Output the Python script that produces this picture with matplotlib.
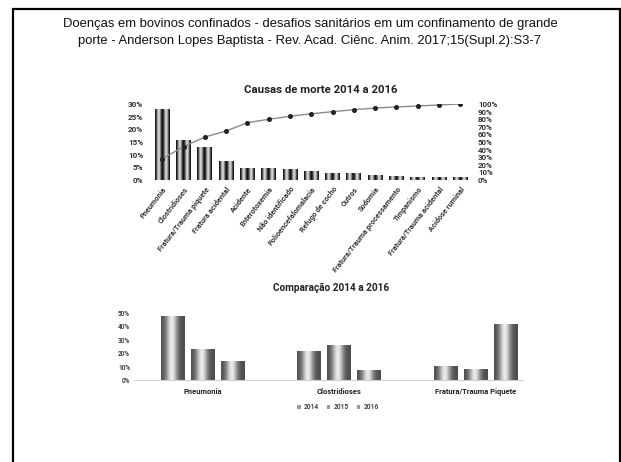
import numpy as np
import matplotlib
matplotlib.use("Agg")
import matplotlib.pyplot as plt
from matplotlib.patches import Rectangle, Patch

# ---- data -------------------------------------------------------------
causas = ["Pneumonia", "Clostridioses", "Fratura/Trauma piquete", "Fratura acidental",
          "Acidente", "Enterotoxemia", "Não identificado", "Polioencefalomalacia",
          "Refugo de cocho", "Outros", "Sodomia", "Fratura/Trauma processamento",
          "Timpanismo", "Fratura/Trauma acidental", "Acidose ruminal"]
percentual = [27.9, 15.7, 13.1, 7.5, 4.9, 4.6, 4.2, 3.4, 2.9, 2.6, 1.9, 1.6, 1.3, 1.3, 1.2]
acumulado = [28.0, 43.8, 56.6, 64.5, 75.4, 79.9, 83.8, 87.2, 89.9, 92.5, 94.7, 96.1, 97.4, 98.7, 100.0]
ticks_esq = [0, 5, 10, 15, 20, 25, 30]
ticks_dir = [0, 10, 20, 30, 40, 50, 60, 70, 80, 90, 100]

grupos = ["Pneumonia", "Clostridioses", "Fratura/Trauma Piquete"]
anos = ["2014", "2015", "2016"]
comparacao = {
    "2014": [47.5, 21.9, 10.3],
    "2015": [22.7, 25.9, 7.9],
    "2016": [13.8, 7.6, 41.9],
}
ticks_comp = [0, 10, 20, 30, 40, 50]

# ---- fonts ------------------------------------------------------------
NARROW = ["Roboto", "DejaVu Sans"]
ARIAL = ["Liberation Sans", "DejaVu Sans"]

W, H = 621, 462
fig = plt.figure(figsize=(W / 100, H / 100), dpi=100)
fig.patch.set_facecolor("white")


def fx(px):
    return px / W


def fy(py):
    return 1 - py / H


def gradient_fill(ax, bars, profile):
    """Replace flat bar faces by a horizontal grey gradient clipped to each bar."""
    xl, yl = ax.get_xlim(), ax.get_ylim()
    t = np.linspace(0, 1, 64)
    g = profile(t)[np.newaxis, :]
    for b in bars:
        x, y = b.get_x(), b.get_y()
        w, h = b.get_width(), b.get_height()
        im = ax.imshow(g, extent=[x, x + w, y, y + h], cmap="gray", vmin=0, vmax=1,
                       aspect="auto", interpolation="bicubic", zorder=b.get_zorder())
        im.set_clip_path(b)
        b.set_facecolor("none")
        b.set_edgecolor("none")
    ax.set_xlim(xl)
    ax.set_ylim(yl)


# ---- slide frame and header ------------------------------------------
fig.add_artist(Rectangle((fx(13), -0.05), fx(620) - fx(13), fy(8.5) + 0.05,
                         transform=fig.transFigure, fill=False,
                         edgecolor="black", linewidth=1.6))
fig.text(0.499, fy(24), "Doenças em bovinos confinados - desafios sanitários em um confinamento de grande",
         ha="center", va="center", fontsize=9.4, family=ARIAL, color="#111111")
fig.text(0.499, fy(41), "porte - Anderson Lopes Baptista - Rev. Acad. Ciênc. Anim. 2017;15(Supl.2):S3-7",
         ha="center", va="center", fontsize=9.4, family=ARIAL, color="#111111")

# ---- Pareto chart -----------------------------------------------------
ax1 = fig.add_axes([fx(151.6), fy(180), fx(471) - fx(151.6), fy(104) - fy(180)])
x = np.arange(len(causas))
barras = ax1.bar(x, percentual, width=0.7, zorder=2)
ax1.set_xlim(-0.5, len(causas) - 0.5)
ax1.set_ylim(0, 30)
ax1.set_yticks(ticks_esq)
ax1.set_yticklabels([f"{v}%" for v in ticks_esq], fontsize=5.9, family=NARROW,
                    fontweight="bold", color="#333333")
ax1.set_xticks(x)
ax1.set_xticklabels(causas, rotation=52, ha="right", rotation_mode="anchor",
                    fontsize=5.3, family=NARROW, fontweight="bold", color="#333333")
ax1.tick_params(axis="both", length=0)
ax1.tick_params(axis="y", pad=6)
ax1.tick_params(axis="x", pad=4)
for s in ax1.spines.values():
    s.set_visible(False)
gradient_fill(ax1, barras, lambda t: 0.46 - 0.42 * np.cos(4 * np.pi * t))

ax1b = ax1.twinx()
ax1b.plot(x, acumulado, color="#8a8a8a", linewidth=1.0, marker="o",
          markersize=2.6, markerfacecolor="#222222", markeredgecolor="#222222", zorder=3)
ax1b.set_ylim(0, 100)
ax1b.set_yticks(ticks_dir)
ax1b.set_yticklabels([f"{v}%" for v in ticks_dir], fontsize=5.7, family=NARROW,
                     fontweight="bold", color="#333333")
ax1b.tick_params(axis="y", length=0, pad=5)
for s in ax1b.spines.values():
    s.set_visible(False)

fig.text(fx(321), fy(90), "Causas de morte 2014 a 2016", ha="center", va="center",
         fontsize=8.2, family=NARROW, fontweight="bold", color="#222222")

# ---- comparison chart -------------------------------------------------
ax2 = fig.add_axes([fx(134.3), fy(380), fx(523) - fx(134.3), fy(312.7) - fy(380)])
g = np.arange(len(grupos))
desloc = [-0.22, 0.0, 0.22]
todas = []
for k, ano in enumerate(anos):
    bb = ax2.bar(g + desloc[k], comparacao[ano], width=0.172, zorder=2, label=ano)
    todas.extend(bb)
ax2.set_xlim(-0.5, 2.35)
ax2.set_ylim(0, 50)
ax2.set_yticks(ticks_comp)
ax2.set_yticklabels([f"{v}%" for v in ticks_comp], fontsize=4.7, family=NARROW,
                    fontweight="bold", color="#444444")
ax2.set_xticks(g)
ax2.set_xticklabels(grupos, fontsize=5.4, family=NARROW, fontweight="bold", color="#222222")
ax2.tick_params(axis="both", length=0)
ax2.tick_params(axis="y", pad=3)
ax2.tick_params(axis="x", pad=6)
for name, s in ax2.spines.items():
    s.set_visible(name == "bottom")
ax2.spines["bottom"].set_color("#d0d0d0")
ax2.spines["bottom"].set_linewidth(0.8)
gradient_fill(ax2, todas, lambda t: 0.30 + 0.62 * np.exp(-((t - 0.45) / 0.24) ** 2))

fig.text(fx(331), fy(288), "Comparação 2014 a 2016", ha="center", va="center",
         fontsize=7.2, family=NARROW, fontweight="bold", color="#222222")

handles = [Patch(facecolor="#9a9a9a", edgecolor="none") for _ in anos]
fig.legend(handles, anos, loc="center", bbox_to_anchor=(fx(338), fy(407)), ncol=3,
           frameon=False, prop={"family": NARROW, "size": 4.8, "weight": "bold"},
           handlelength=0.5, handleheight=0.5, handletextpad=0.5, columnspacing=1.2,
           labelcolor="#444444")

fig.savefig("out.png", dpi=100, facecolor="white")
